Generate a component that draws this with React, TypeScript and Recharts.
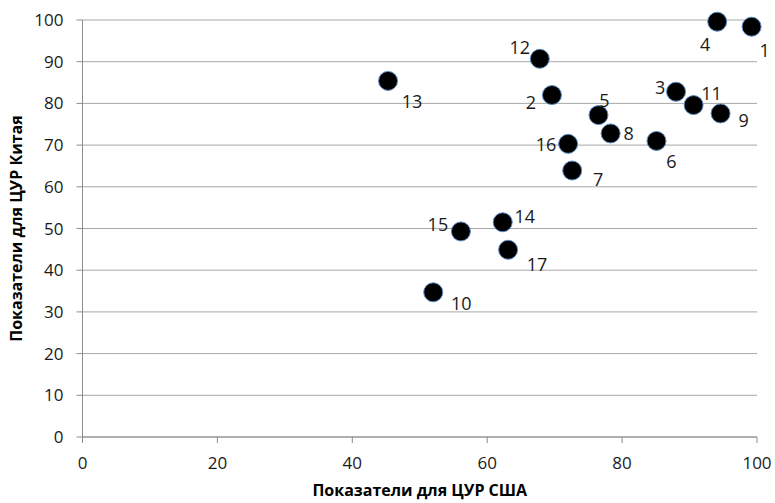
import React from "react";
import { ScatterChart, Scatter, XAxis, YAxis, CartesianGrid, LabelList, Label } from "recharts";

const goalIds = [1, 2, 3, 4, 5, 6, 7, 8, 9, 10, 11, 12, 13, 14, 15, 16, 17];
const usaScores = [99.2, 69.6, 88.0, 94.1, 76.5, 85.1, 72.6, 78.3, 94.6, 52.0, 90.6, 67.8, 45.3, 62.3, 56.1, 72.0, 63.1];
const chinaScores = [98.4, 82.0, 82.8, 99.6, 77.2, 71.0, 63.9, 72.8, 77.6, 34.7, 79.6, 90.7, 85.4, 51.5, 49.3, 70.3, 44.9];
const xTicks = [0, 20, 40, 60, 80, 100];
const yTicks = [0, 10, 20, 30, 40, 50, 60, 70, 80, 90, 100];
const xTitle = "Показатели для ЦУР США";
const yTitle = "Показатели для ЦУР Китая";

// label placement (layout only)
const labelOffsets: Record<number, [number, number]> = {
  1: [13, 23], 2: [-21, 7], 3: [-16, -5], 4: [-12, 22], 5: [6, -15], 6: [15, 20],
  7: [26, 8], 8: [18, 0], 9: [23, 7], 10: [28, 11], 11: [18, -12], 12: [-20, -12],
  13: [24, 20], 14: [22, -6], 15: [-23, -7], 16: [-22, 0], 17: [29, 14],
};

const data = goalIds.map((id, i) => ({ id, usa: usaScores[i], china: chinaScores[i] }));

const FONT = "'Open Sans', sans-serif";

const Dot = (props: any) => (
  <circle cx={props.cx} cy={props.cy} r={9.5} fill="#000" stroke="#5b8bc7" strokeWidth={1} />
);

const PointLabel = (props: any) => {
  const { x, y, width, height, value } = props;
  const cx = x + (width || 0) / 2;
  const cy = y + (height || 0) / 2;
  const off = labelOffsets[value] || [15, 0];
  return (
    <text x={cx + off[0]} y={cy + off[1]} textAnchor="middle" dominantBaseline="central"
      fontFamily={FONT} fontSize={18} fill="#1a1a1a">
      {value}
    </text>
  );
};

const YTitle = (props: any) => {
  const vb = props.viewBox;
  const cy = vb.y + vb.height / 2;
  return (
    <text x={16} y={cy} transform={`rotate(-90, 16, ${cy})`} textAnchor="middle" dominantBaseline="central"
      fontFamily={FONT} fontSize={16} fontWeight="bold" fill="#000">
      {yTitle}
    </text>
  );
};

const XTitle = (props: any) => {
  const vb = props.viewBox;
  return (
    <text x={vb.x + vb.width / 2} y={490} textAnchor="middle" dominantBaseline="central"
      fontFamily={FONT} fontSize={16} fontWeight="bold" fill="#000">
      {xTitle}
    </text>
  );
};

export default function App() {
  return (
    <div style={{ position: "absolute", left: 0, top: 0, width: 775, height: 503, background: "#fff" }}>
      <ScatterChart width={775} height={503} margin={{ top: 20, right: 18, bottom: 0, left: 0 }}>
        <CartesianGrid vertical={false} stroke="#a8a8a8" strokeWidth={1} />
        <XAxis type="number" dataKey="usa" domain={[0, 100]} ticks={xTicks} height={66}
          tickSize={6} tickMargin={14} stroke="#8c8c8c"
          tick={{ fontFamily: FONT, fontSize: 17, fill: "#1a1a1a" }}>
          <Label content={XTitle} />
        </XAxis>
        <YAxis type="number" dataKey="china" domain={[0, 100]} ticks={yTicks} width={82.5}
          tickSize={6} tickMargin={13} stroke="#8c8c8c" interval={0}
          tick={{ fontFamily: FONT, fontSize: 17, fill: "#1a1a1a" }}>
          <Label content={YTitle} />
        </YAxis>
        <Scatter data={data} shape={Dot} isAnimationActive={false}>
          <LabelList dataKey="id" content={PointLabel} />
        </Scatter>
      </ScatterChart>
    </div>
  );
}
